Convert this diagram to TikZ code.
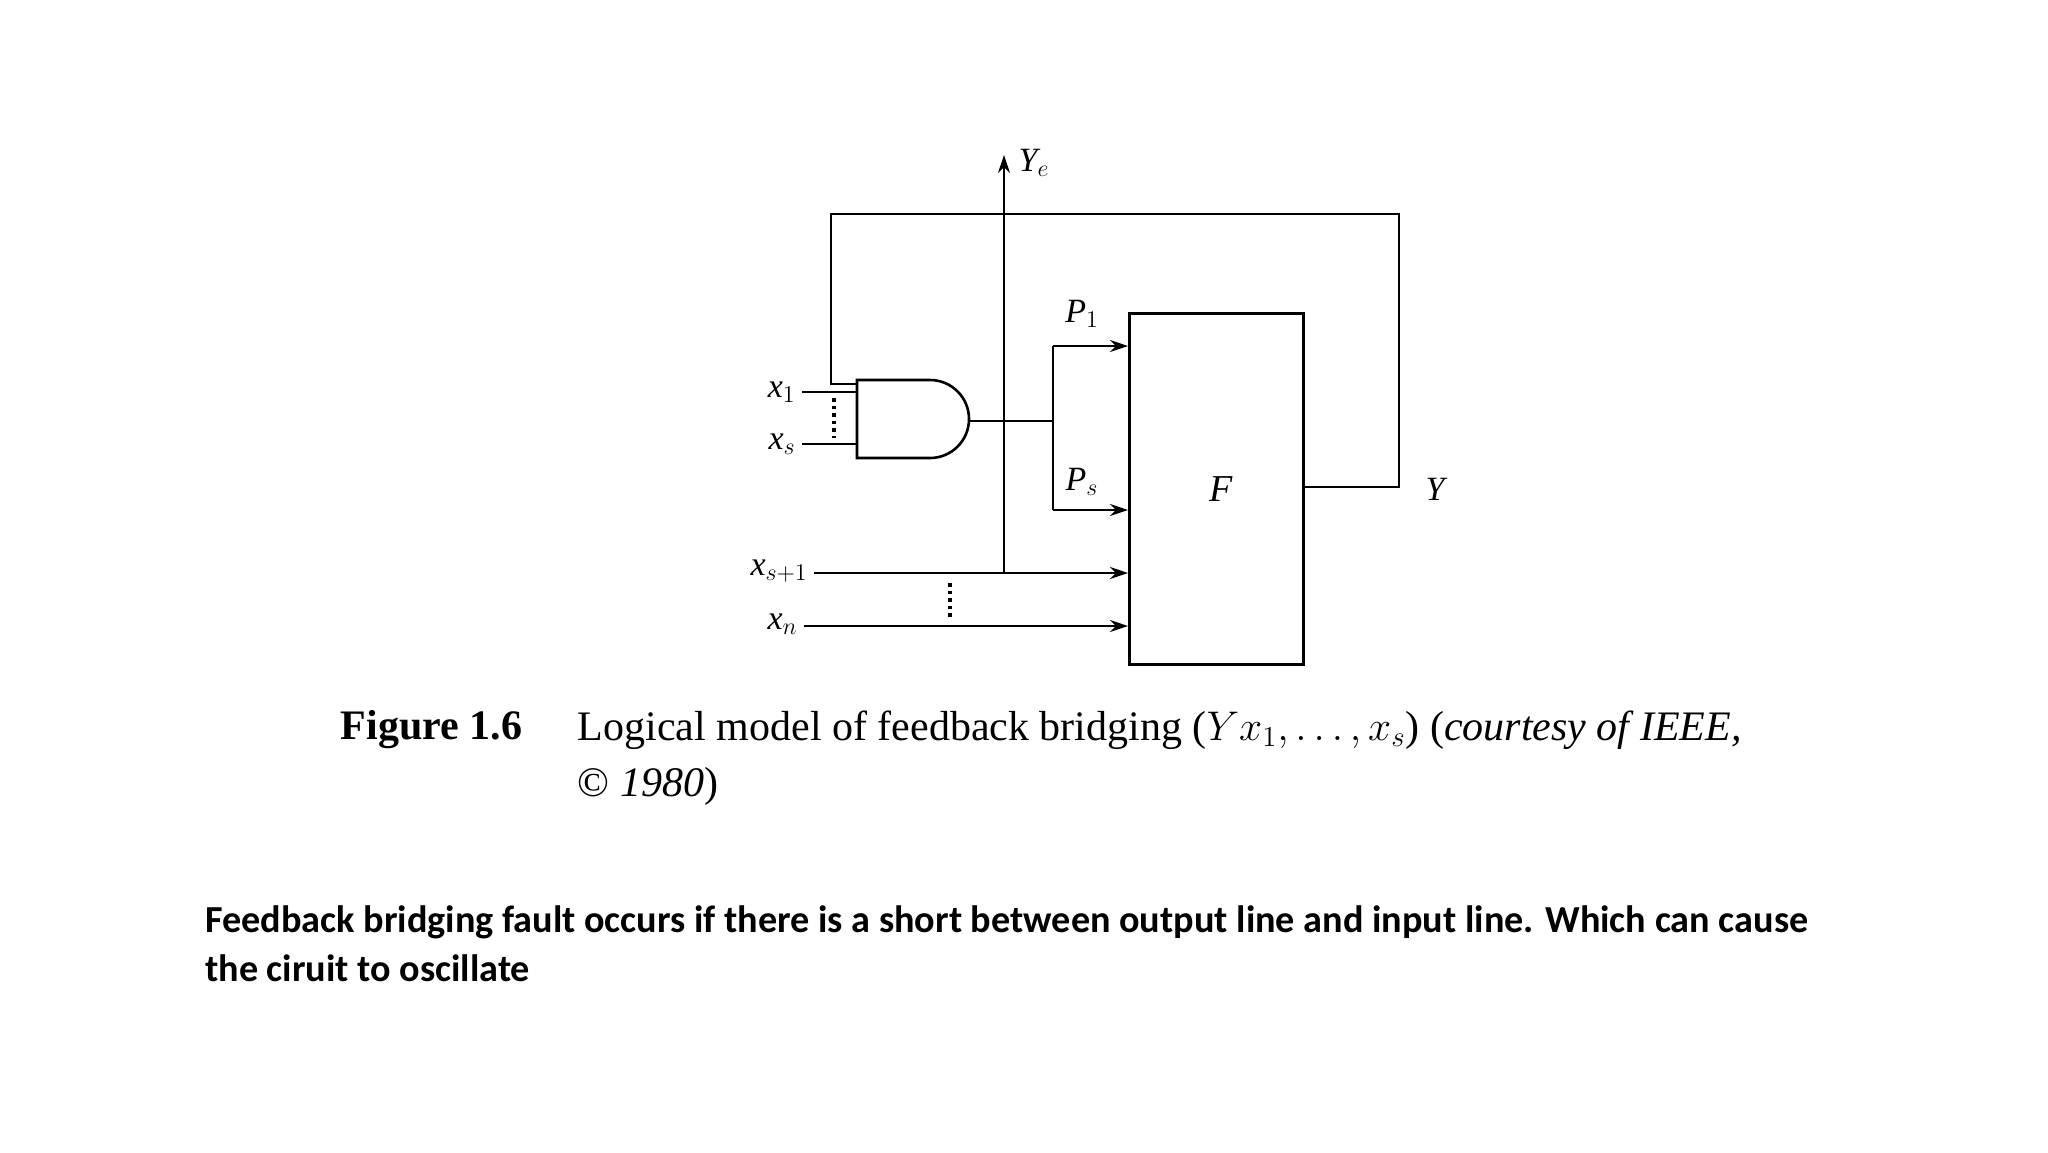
\documentclass[tikz,border=0pt]{standalone}
\usepackage{fontspec}
\setmainfont{Liberation Serif}
\newfontfamily\notefont{Carlito}
\usetikzlibrary{arrows.meta}
\begin{document}
\begin{tikzpicture}[x=0.5pt,y=-0.5pt,line width=1.3pt,
  lbl/.style={font=\fontsize{17}{17}\selectfont\itshape,inner sep=1pt},
  arr/.style={-{Stealth[length=9pt,width=6pt]}}]
\useasboundingbox (0,0) rectangle (2048,1152);
\begin{scope}[xshift=-4pt]
% function block and gate
\node[draw,minimum width=87pt,minimum height=175.5pt,inner sep=0pt,anchor=north west] (F) at (1136,312) {};
\node[lbl,font=\fontsize{19}{19}\selectfont\itshape] (Fl) at (1229,489) {F};
\draw (865,380) -- (938,380) arc[start angle=270,end angle=450,radius=39] -- (865,458) -- cycle;
% coordinates
\coordinate (x1e) at (810,392); \coordinate (x1g) at (865,392);
\coordinate (xse) at (810,444); \coordinate (xsg) at (865,444);
\coordinate (br) at (1061,421);
\coordinate (p1) at (1061,346); \coordinate (ps) at (1061,510);
\coordinate (p1F) at (1136,346); \coordinate (psF) at (1136,510);
\coordinate (yout) at (1310,487);
\coordinate (tr) at (1407,487); \coordinate (trt) at (1407,214);
\coordinate (tl) at (839,214); \coordinate (tlb) at (839,384);
\coordinate (gin) at (865,384);
\coordinate (ye0) at (1012,573); \coordinate (ye1) at (1012,155);
\coordinate (xs1e) at (822,573); \coordinate (xs1F) at (1136,573);
\coordinate (xne) at (812,626); \coordinate (xnF) at (1136,626);
% wires
\draw (x1e) -- (x1g); \draw (xse) -- (xsg);
\draw[dotted,line width=1.8pt] (842,398) -- (842,438);
\draw (977,421) -- (br);
\draw (p1) -- (ps);
\draw[arr] (p1) -- (p1F);
\draw[arr] (ps) -- (psF);
\draw (yout) -- (tr) -- (trt) -- (tl) -- (tlb) -- (gin);
\draw[arr] (ye0) -- (ye1);
\draw[arr] (xs1e) -- (xs1F);
\draw[arr] (xne) -- (xnF);
\draw[dotted,line width=1.8pt] (958,583) -- (958,620);
% labels
\node[lbl] (ly) at (1443,489) {Y};
\node[lbl] (lye) at (1042,163) {Y$_{e}$};
\node[lbl] (lp1) at (1090,314) {P$_1$};
\node[lbl] (lps) at (1090,482) {P$_s$};
\node[lbl,anchor=east] (lx1) at (807,392) {x$_1$};
\node[lbl,anchor=east] (lxs) at (807,444) {x$_s$};
\node[lbl,anchor=east] (lxs1) at (819,571) {x$_{s+1}$};
\node[lbl,anchor=east] (lxn) at (809,624) {x$_n$};
\end{scope}
% caption
\node[font=\fontsize{21}{21}\selectfont\bfseries,anchor=west] (fig) at (333,730) {Figure 1.6};
\node[font=\fontsize{21}{21}\selectfont,anchor=west] (cap1) at (570,730) {Logical model of feedback bridging ($Yx_1,\ldots,x_s$) (\textit{courtesy of IEEE,}};
\node[font=\fontsize{21}{21}\selectfont,anchor=west] (cap2) at (570,786) {\textcopyright\ \textit{1980})};
% note
\node[font=\notefont\fontsize{19.1}{19.1}\selectfont\bfseries,anchor=west,inner sep=0pt] (n1) at (204,922) {Feedback bridging fault occurs if there is a short between output line and input line. Which can cause};
\node[font=\notefont\fontsize{19.1}{19.1}\selectfont\bfseries,anchor=west,inner sep=0pt] (n2) at (204,968) {the ciruit to oscillate};
\end{tikzpicture}
\end{document}
